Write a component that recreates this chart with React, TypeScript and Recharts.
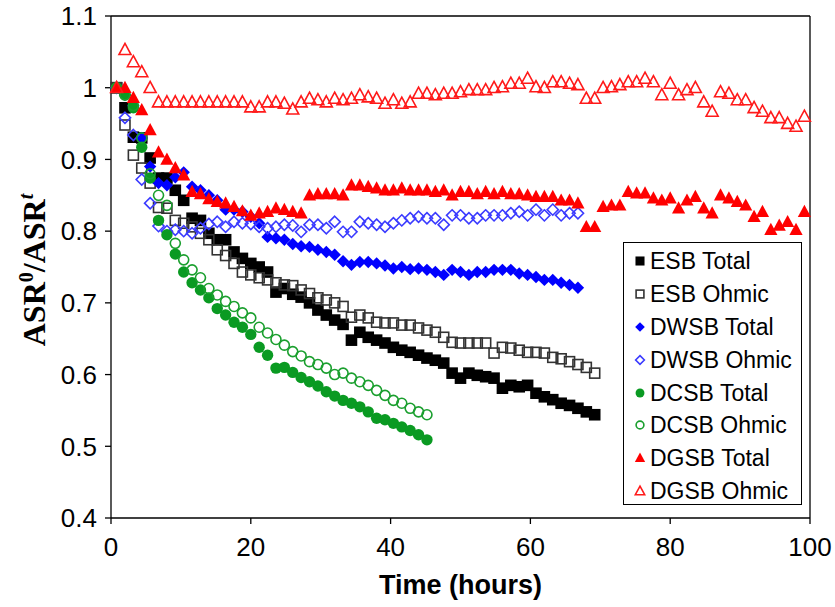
import React from 'react'
import { ScatterChart, Scatter, XAxis, YAxis, ReferenceLine, Legend } from 'recharts'

// sampling times (hours), shared by all cells
const hours = [
  0.8, 2.0, 3.2, 4.4, 5.6, 6.8, 8.0, 9.2, 10.4, 11.6, 12.8, 14.0, 15.2, 16.4, 17.6, 18.8, 20.0, 21.2, 22.4, 23.6,
  24.8, 26.0, 27.2, 28.4, 29.6, 30.8, 32.0, 33.2, 34.4, 35.6, 36.8, 38.0, 39.2, 40.4, 41.6, 42.8, 44.0, 45.2, 46.4, 47.6,
  48.8, 50.0, 51.2, 52.4, 53.6, 54.8, 56.0, 57.2, 58.4, 59.6, 60.8, 62.0, 63.2, 64.4, 65.6, 66.8, 68.0, 69.2, 70.4, 71.6,
  72.8, 74.0, 75.2, 76.4, 77.6, 78.8, 80.0, 81.2, 82.4, 83.6, 84.8, 86.0, 87.2, 88.4, 89.6, 90.8, 92.0, 93.2, 94.4, 95.6,
  96.8, 98.0, 99.2,
]

const esbTotal = [
  1.0, 0.972, 0.931, 0.93, 0.902, 0.874, 0.874, 0.857, 0.843, 0.818, 0.815, 0.797, 0.788, 0.788, 0.771, 0.762, 0.755, 0.75, 0.743, 0.715,
  0.72, 0.712, 0.708, 0.7, 0.69, 0.683, 0.676, 0.67, 0.648, 0.659, 0.652, 0.648, 0.644, 0.638, 0.634, 0.631, 0.627, 0.623, 0.62, 0.616,
  0.602, 0.595, 0.602, 0.599, 0.597, 0.595, 0.581, 0.585, 0.583, 0.585, 0.574, 0.569, 0.565, 0.56, 0.557, 0.553, 0.548, 0.544,
]
const esbOhmic = [
  1.0, 0.948, 0.906, 0.888, 0.867, 0.833, 0.832, 0.815, 0.811, 0.806, 0.797, 0.788, 0.774, 0.766, 0.755, 0.743, 0.739, 0.735, 0.732, 0.728,
  0.725, 0.724, 0.718, 0.713, 0.707, 0.704, 0.7, 0.695, 0.68, 0.683, 0.679, 0.673, 0.672, 0.672, 0.669, 0.669, 0.665, 0.662, 0.659, 0.652,
  0.645, 0.644, 0.644, 0.644, 0.644, 0.63, 0.638, 0.637, 0.634, 0.631, 0.631, 0.63, 0.624, 0.622, 0.618, 0.614, 0.61, 0.602,
]
const dwsbTotal = [
  1.0, 0.99, 0.975, 0.93, 0.89, 0.867, 0.864, 0.875, 0.882, 0.862, 0.857, 0.85, 0.843, 0.83, 0.83, 0.827, 0.82, 0.811, 0.792, 0.79,
  0.788, 0.782, 0.779, 0.778, 0.774, 0.771, 0.767, 0.758, 0.753, 0.757, 0.757, 0.755, 0.752, 0.748, 0.75, 0.747, 0.748, 0.746, 0.743, 0.739,
  0.746, 0.743, 0.739, 0.743, 0.743, 0.746, 0.746, 0.746, 0.741, 0.739, 0.736, 0.732, 0.732, 0.728, 0.725, 0.721,
]
const dwsbOhmic = [
  1.0, 0.958, 0.934, 0.872, 0.839, 0.807, 0.8, 0.802, 0.8, 0.797, 0.804, 0.81, 0.813, 0.806, 0.813, 0.811, 0.81, 0.806, 0.804, 0.806,
  0.809, 0.808, 0.799, 0.809, 0.809, 0.804, 0.813, 0.799, 0.799, 0.813, 0.811, 0.809, 0.806, 0.811, 0.815, 0.818, 0.82, 0.818, 0.818, 0.809,
  0.822, 0.822, 0.818, 0.818, 0.822, 0.822, 0.822, 0.825, 0.827, 0.822, 0.83, 0.822, 0.83, 0.822, 0.825, 0.825,
]
const dcsbTotal = [
  1.0, 0.99, 0.972, 0.917, 0.874, 0.815, 0.795, 0.768, 0.743, 0.728, 0.718, 0.707, 0.692, 0.683, 0.673, 0.666, 0.656, 0.638, 0.627, 0.609,
  0.61, 0.603, 0.596, 0.59, 0.584, 0.576, 0.57, 0.564, 0.56, 0.555, 0.548, 0.539, 0.537, 0.532, 0.527, 0.522, 0.516, 0.509,
]
const dcsbOhmic = [
  1.0, 0.99, 0.975, 0.93, 0.88, 0.85, 0.836, 0.783, 0.76, 0.746, 0.735, 0.72, 0.711, 0.702, 0.695, 0.686, 0.679, 0.666, 0.658, 0.649,
  0.641, 0.632, 0.626, 0.618, 0.614, 0.609, 0.6, 0.602, 0.595, 0.59, 0.585, 0.578, 0.571, 0.564, 0.56, 0.553, 0.548, 0.544,
]
const dgsbTotal = [
  1.0, 1.0, 0.986, 0.969, 0.941, 0.91, 0.9, 0.888, 0.878, 0.855, 0.852, 0.845, 0.841, 0.839, 0.834, 0.828, 0.822, 0.825, 0.827, 0.832,
  0.83, 0.827, 0.825, 0.85, 0.852, 0.852, 0.852, 0.85, 0.864, 0.864, 0.862, 0.86, 0.857, 0.857, 0.86, 0.857, 0.857, 0.857, 0.855, 0.857,
  0.85, 0.855, 0.855, 0.852, 0.855, 0.852, 0.855, 0.852, 0.852, 0.85, 0.848, 0.848, 0.848, 0.843, 0.843, 0.839, 0.806, 0.806, 0.834, 0.836,
  0.836, 0.855, 0.853, 0.853, 0.846, 0.843, 0.846, 0.832, 0.843, 0.848, 0.832, 0.825, 0.85, 0.846, 0.841, 0.836, 0.82, 0.827, 0.802, 0.808,
  0.813, 0.802, 0.827,
]
const dgsbOhmic = [
  1.0, 1.053, 1.036, 1.022, 1.0, 0.98, 0.98, 0.98, 0.98, 0.98, 0.98, 0.98, 0.98, 0.98, 0.98, 0.98, 0.973, 0.973, 0.98, 0.98,
  0.978, 0.97, 0.98, 0.985, 0.983, 0.98, 0.985, 0.983, 0.985, 0.99, 0.987, 0.985, 0.978, 0.983, 0.978, 0.98, 0.992, 0.992, 0.99, 0.992,
  0.992, 0.994, 0.997, 0.997, 0.997, 1.0, 1.001, 1.006, 1.006, 1.013, 1.001, 1.0, 1.008, 1.008, 1.006, 1.004, 0.985, 0.985, 1.0, 1.001,
  1.004, 1.008, 1.008, 1.013, 1.008, 0.99, 1.006, 0.99, 0.997, 1.0, 0.98, 0.967, 0.994, 0.992, 0.983, 0.983, 0.972, 0.967, 0.958, 0.958,
  0.95, 0.946, 0.96,
]

const xTicks = [0, 20, 40, 60, 80, 100]
const yTicks = [0.4, 0.5, 0.6, 0.7, 0.8, 0.9, 1, 1.1]

const series = [
  { name: 'ESB Total', values: esbTotal, kind: 'square', filled: true, color: '#000000' },
  { name: 'ESB Ohmic', values: esbOhmic, kind: 'square', filled: false, color: '#333333' },
  { name: 'DWSB Total', values: dwsbTotal, kind: 'diamond', filled: true, color: '#0000ff' },
  { name: 'DWSB Ohmic', values: dwsbOhmic, kind: 'diamond', filled: false, color: '#3b3bff' },
  { name: 'DCSB Total', values: dcsbTotal, kind: 'circle', filled: true, color: '#0a9a22' },
  { name: 'DCSB Ohmic', values: dcsbOhmic, kind: 'circle', filled: false, color: '#1a9f2e' },
  { name: 'DGSB Total', values: dgsbTotal, kind: 'triangle', filled: true, color: '#ff0000' },
  { name: 'DGSB Ohmic', values: dgsbOhmic, kind: 'triangle', filled: false, color: '#ff1a1a' },
]

const sans = '"Liberation Sans", Arial, sans-serif'

function Marker({ cx, cy, kind, filled, color, s = 1 }: any) {
  if (cx == null || cy == null) return null
  const fill = filled ? color : 'none'
  const stroke = filled ? 'none' : color
  const sw = 1.6
  if (kind === 'square') {
    const h = (filled ? 5.8 : 5) * s
    return <rect x={cx - h} y={cy - h} width={2 * h} height={2 * h} fill={fill} stroke={stroke} strokeWidth={sw} />
  }
  if (kind === 'diamond') {
    const r = (filled ? 6.2 : 5.6) * s
    return <polygon points={`${cx},${cy - r} ${cx + r},${cy} ${cx},${cy + r} ${cx - r},${cy}`} fill={fill} stroke={stroke} strokeWidth={sw} />
  }
  if (kind === 'circle') {
    return <circle cx={cx} cy={cy} r={(filled ? 5.7 : 5) * s} fill={fill} stroke={stroke} strokeWidth={sw} />
  }
  const w = (filled ? 6.6 : 6) * s
  return (
    <polygon
      points={`${cx},${cy - w * 1.05} ${cx + w},${cy + w * 0.8} ${cx - w},${cy + w * 0.8}`}
      fill={fill}
      stroke={stroke}
      strokeWidth={sw}
    />
  )
}

function LegendBox() {
  return (
    <div style={{ width: 179, height: 263, border: '1.5px solid #000', background: '#fff', boxSizing: 'border-box', paddingTop: 2 }}>
      {series.map((s) => (
        <div key={s.name} style={{ display: 'flex', alignItems: 'center', height: 32.8 }}>
          <svg width={20} height={20} style={{ marginLeft: 6 }}>
            <Marker cx={10} cy={10} kind={s.kind} filled={s.filled} color={s.color} s={0.78} />
          </svg>
          <span style={{ fontFamily: sans, fontSize: 23, color: '#000', marginLeft: 0, lineHeight: '24px' }}>{s.name}</span>
        </div>
      ))}
    </div>
  )
}

function YTitle({ viewBox }: any) {
  const cy = viewBox ? viewBox.y + viewBox.height / 2 : 267
  return (
    <text
      transform={`translate(45, ${cy + 3}) rotate(-90)`}
      textAnchor="middle"
      fontFamily='"Liberation Serif", "Times New Roman", serif'
      fontWeight="bold"
      fontSize={32}
      fill="#000"
    >
      ASR
      <tspan dy={-12} fontSize={20}>0</tspan>
      <tspan dy={12}>/ASR</tspan>
      <tspan dy={-12} fontSize={20} fontStyle="italic">t</tspan>
    </text>
  )
}

export default function App() {
  return (
    <div style={{ position: 'absolute', left: 0, top: 0, background: '#fff' }}>
      <ScatterChart width={835} height={607} margin={{ top: 16, right: 25, bottom: 0, left: 0 }}>
        <XAxis
          type="number"
          dataKey="x"
          domain={[0, 100]}
          ticks={xTicks}
          height={89}
          stroke="#000"
          strokeWidth={1.3}
          tickSize={6}
          tickMargin={14}
          tick={{ fill: '#000', fontSize: 26, fontFamily: sans }}
          label={{ value: 'Time (hours)', position: 'insideBottom', offset: 13, fill: '#000', fontSize: 27, fontWeight: 'bold', fontFamily: sans }}
        />
        <YAxis
          type="number"
          dataKey="y"
          domain={[0.4, 1.1]}
          ticks={yTicks}
          width={111}
          stroke="#000"
          strokeWidth={1.3}
          tickSize={6}
          tickMargin={8}
          tick={{ fill: '#000', fontSize: 26, fontFamily: sans }}
          label={<YTitle />}
        />
        <ReferenceLine y={1.1} stroke="#000" strokeWidth={1.3} />
        <ReferenceLine x={100} stroke="#000" strokeWidth={1.3} />
        {series.map((s) => (
          <Scatter
            key={s.name}
            name={s.name}
            data={s.values.map((v, i) => ({ x: hours[i], y: v }))}
            isAnimationActive={false}
            shape={(p: any) => <Marker cx={p.cx} cy={p.cy} kind={s.kind} filled={s.filled} color={s.color} />}
          />
        ))}
        <Legend
          layout="horizontal"
          verticalAlign="middle"
          align="center"
          wrapperStyle={{ left: 623, top: 242, width: 179 }}
          content={() => <LegendBox />}
        />
      </ScatterChart>
    </div>
  )
}
